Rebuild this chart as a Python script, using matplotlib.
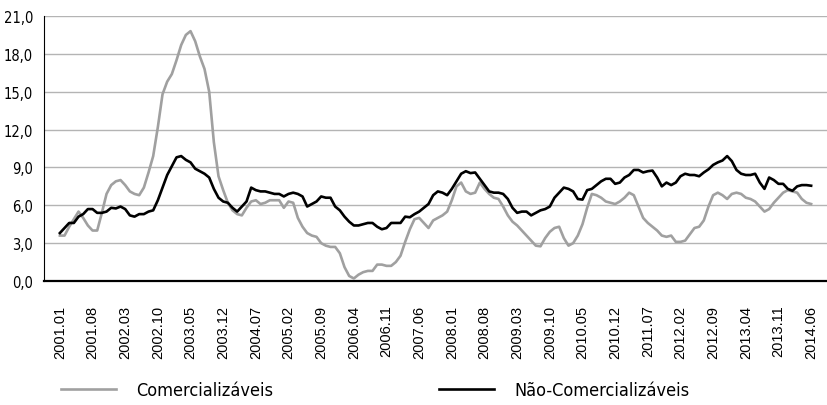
import matplotlib
matplotlib.use("Agg")
import matplotlib.pyplot as plt
import matplotlib.ticker as mticker

# taxas de variação homóloga (%), mensal 2001.01 - 2014.06
comercializaveis = [
    3.6, 3.6, 4.3, 4.9, 5.5, 5.0, 4.4, 4.0, 4.0, 5.4,
    6.9, 7.6, 7.9, 8.0, 7.6, 7.1, 6.9, 6.8, 7.4, 8.6,
    9.9, 12.2, 14.8, 15.8, 16.4, 17.5, 18.7, 19.5, 19.8, 19.0,
    17.8, 16.8, 15.0, 11.0, 8.3, 7.2, 6.2, 5.6, 5.3, 5.2,
    5.8, 6.3, 6.4, 6.1, 6.2, 6.4, 6.4, 6.4, 5.8, 6.3,
    6.2, 5.0, 4.3, 3.8, 3.6, 3.5, 3.0, 2.8, 2.7, 2.7,
    2.2, 1.1, 0.4, 0.2, 0.5, 0.7, 0.8, 0.8, 1.3, 1.3,
    1.2, 1.2, 1.5, 2.0, 3.1, 4.1, 4.9, 5.0, 4.6, 4.2,
    4.8, 5.0, 5.2, 5.5, 6.4, 7.5, 7.8, 7.1, 6.9, 7.0,
    7.8, 7.3, 6.9, 6.6, 6.5, 5.9, 5.2, 4.7, 4.4, 4.0,
    3.6, 3.2, 2.8, 2.75, 3.4, 3.9, 4.2, 4.3, 3.4, 2.8,
    3.0, 3.6, 4.5, 5.8, 6.9, 6.8, 6.6, 6.3, 6.2, 6.1,
    6.3, 6.6, 7.0, 6.8, 5.9, 5.0, 4.6, 4.3, 4.0, 3.6,
    3.5, 3.6, 3.1, 3.1, 3.2, 3.7, 4.2, 4.3, 4.8, 5.9,
    6.8, 7.0, 6.8, 6.5, 6.9, 7.0, 6.9, 6.6, 6.5, 6.3,
    5.9, 5.5, 5.7, 6.2, 6.6, 7.0, 7.2, 7.1, 7.0, 6.5,
    6.2, 6.1,
]
nao_comercializaveis = [
    3.8, 4.2, 4.6, 4.6, 5.1, 5.3, 5.7, 5.7, 5.4, 5.4,
    5.5, 5.8, 5.75, 5.9, 5.7, 5.2, 5.1, 5.3, 5.3, 5.5,
    5.6, 6.4, 7.4, 8.4, 9.1, 9.8, 9.9, 9.6, 9.4, 8.9,
    8.7, 8.5, 8.2, 7.3, 6.6, 6.3, 6.2, 5.8, 5.5, 5.9,
    6.3, 7.4, 7.2, 7.1, 7.1, 7.0, 6.9, 6.9, 6.7, 6.9,
    7.0, 6.9, 6.7, 5.9, 6.1, 6.3, 6.7, 6.6, 6.6, 5.9,
    5.6, 5.1, 4.7, 4.4, 4.4, 4.5, 4.6, 4.6, 4.3, 4.1,
    4.2, 4.6, 4.6, 4.6, 5.1, 5.05, 5.3, 5.5, 5.8, 6.1,
    6.8, 7.1, 7.0, 6.8, 7.3, 7.9, 8.5, 8.7, 8.55, 8.6,
    8.1, 7.6, 7.1, 7.0, 7.0, 6.9, 6.5, 5.8, 5.4, 5.5,
    5.5, 5.2, 5.4, 5.6, 5.7, 5.9, 6.6, 7.0, 7.4, 7.3,
    7.1, 6.5, 6.45, 7.2, 7.3, 7.6, 7.9, 8.1, 8.1, 7.7,
    7.8, 8.2, 8.4, 8.8, 8.8, 8.6, 8.7, 8.75, 8.2, 7.5,
    7.8, 7.6, 7.8, 8.3, 8.5, 8.4, 8.4, 8.3, 8.6, 8.85,
    9.2, 9.4, 9.55, 9.9, 9.5, 8.8, 8.5, 8.4, 8.4, 8.5,
    7.8, 7.3, 8.2, 8.0, 7.7, 7.7, 7.3, 7.15, 7.5, 7.6,
    7.6, 7.55,
]

meses = []
for ano in range(2001, 2015):
    for m in range(1, 13):
        meses.append("%d.%02d" % (ano, m))
meses = meses[:len(comercializaveis)]

fig = plt.figure(figsize=(8.27, 4.06), dpi=100)
ax = fig.add_axes([44 / 827, 1 - 282 / 406, 1 - 44 / 827, (282 - 17) / 406])

x = list(range(len(meses)))
ax.plot(x, comercializaveis, color="#a0a0a0", lw=1.9, label="Comercializáveis", zorder=3)
ax.plot(x, nao_comercializaveis, color="#000000", lw=1.9, label="Não-Comercializáveis", zorder=4)

ax.set_ylim(0, 21)
ax.set_xlim(-3.4, len(meses) - 1 + 3.4)
ax.yaxis.set_major_locator(mticker.MultipleLocator(3))
ax.yaxis.set_major_formatter(mticker.FuncFormatter(lambda v, p: ("%.1f" % v).replace(".", ",")))
ax.grid(axis="y", color="#b4b4b4", lw=1.0)
ax.set_axisbelow(True)

ax.set_xticks(x[::7])
ax.set_xticklabels(meses[::7], rotation=90, family="Liberation Sans", fontsize=10.5)
for lab in ax.get_yticklabels():
    lab.set_family("DejaVu Sans")
    lab.set_stretch("condensed")
    lab.set_fontsize(10.5)
ax.tick_params(axis="x", length=0, pad=17)
ax.tick_params(axis="y", length=0, pad=8)

for s in ["top", "right"]:
    ax.spines[s].set_visible(False)
ax.spines["bottom"].set_linewidth(1.6)
ax.spines["left"].set_linewidth(0.8)

fig.legend(loc="center left", bbox_to_anchor=(61 / 827, 1 - 391 / 406), ncol=2,
           frameon=False, borderpad=0, borderaxespad=0, handlelength=3.05,
           handletextpad=1.1, columnspacing=9.2,
           prop={"family": "DejaVu Sans", "stretch": "condensed", "size": 13})

fig.savefig("out.png", dpi=100)
